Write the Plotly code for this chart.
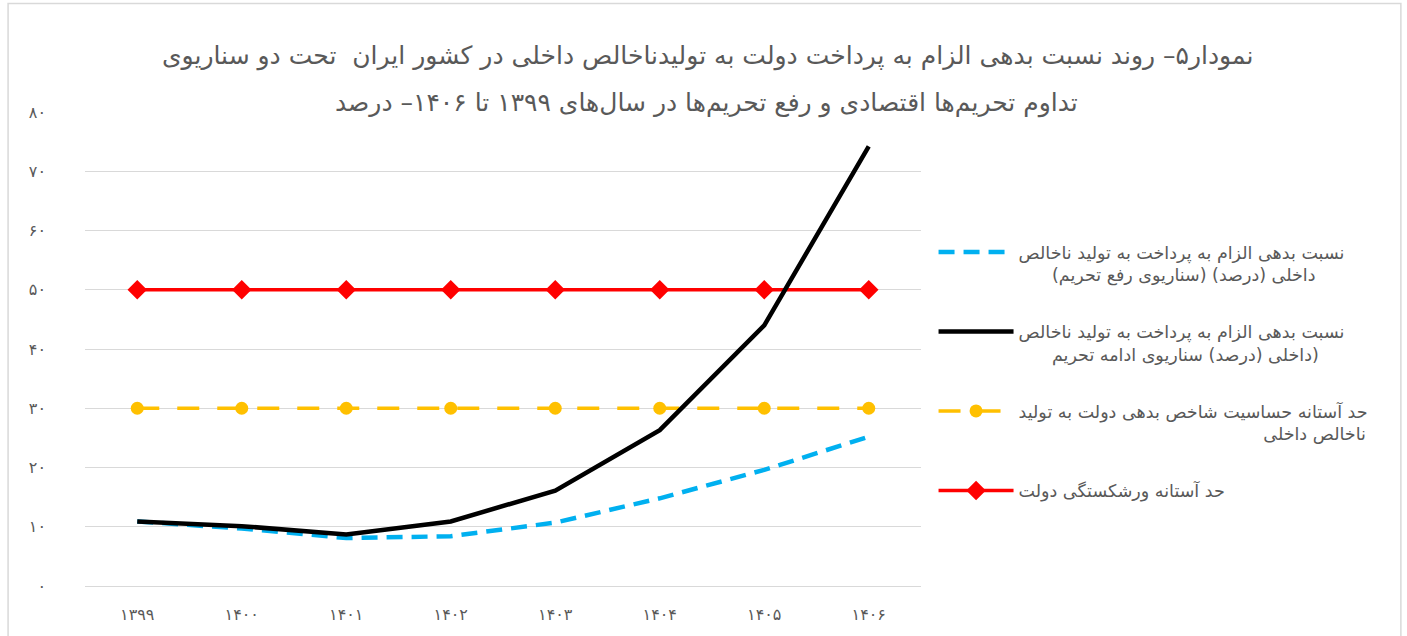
import plotly.graph_objects as go

years = ["۱۳۹۹", "۱۴۰۰", "۱۴۰۱", "۱۴۰۲", "۱۴۰۳", "۱۴۰۴", "۱۴۰۵", "۱۴۰۶"]
lift_sanctions = [10.9, 9.7, 8.1, 8.4, 10.7, 14.8, 19.6, 25.2]
continue_sanctions = [10.9, 10.1, 8.7, 10.9, 16.1, 26.3, 44.0, 74.2]
sensitivity_threshold = [30, 30, 30, 30, 30, 30, 30, 30]
bankruptcy_threshold = [50, 50, 50, 50, 50, 50, 50, 50]
y_tickvals = [0, 10, 20, 30, 40, 50, 60, 70, 80]
y_ticktext = ["۰", "۱۰", "۲۰", "۳۰", "۴۰", "۵۰", "۶۰", "۷۰", "۸۰"]

NB = "\u00a0"
names = [
    "نسبت بدهی الزام به پرداخت به تولید ناخالص<br>" + NB * 6 + "داخلی (درصد) (سناریوی رفع تحریم)",
    "نسبت بدهی الزام به پرداخت به تولید ناخالص<br>" + NB * 6 + "داخلی (درصد) سناریوی ادامه تحریم)",
    "حد آستانه حساسیت شاخص بدهی دولت به تولید<br>" + NB * 44 + "ناخالص داخلی",
    "حد آستانه ورشکستگی دولت",
]

FONT = "DejaVu Sans"
GRAY = "#595959"

fig = go.Figure()
fig.add_trace(go.Scatter(x=years, y=sensitivity_threshold, name=names[2], mode="lines+markers",
                         line=dict(color="#FFC000", width=3.5, dash="22px,18px"),
                         marker=dict(symbol="circle", size=13, color="#FFC000"),
                         legendrank=3, legendgroup="c"))
fig.add_trace(go.Scatter(x=years, y=bankruptcy_threshold, name=names[3], mode="lines+markers",
                         line=dict(color="#FF0000", width=3.5),
                         marker=dict(symbol="diamond", size=15, color="#FF0000"),
                         legendrank=4, legendgroup="d"))
fig.add_trace(go.Scatter(x=years, y=lift_sanctions, name=names[0], mode="lines",
                         line=dict(color="#00B0F0", width=4.5, dash="16px,9px"),
                         legendrank=1, legendgroup="a"))
fig.add_trace(go.Scatter(x=years, y=continue_sanctions, name=names[1], mode="lines",
                         line=dict(color="#000000", width=4.5),
                         legendrank=2, legendgroup="b"))

fig.update_layout(
    width=1407, height=636,
    margin=dict(l=85, r=486, t=112, b=46),
    paper_bgcolor="white", plot_bgcolor="white",
    font=dict(family=FONT, color=GRAY, size=15),
    title=dict(text="نمودار۵– روند نسبت بدهی الزام به پرداخت دولت به تولیدناخالص داخلی در کشور ایران  تحت دو سناریوی",
               x=0.503, xref="container", xanchor="center", y=1 - 55 / 636, yref="container",
               yanchor="middle",
               font=dict(family=FONT, size=25, color=GRAY)),
    showlegend=True,
    legend=dict(x=1.015, xanchor="left", y=0.7425, yanchor="top", valign="top",
                font=dict(family=FONT, size=17.5, color=GRAY), itemwidth=75,
                tracegroupgap=31, traceorder="grouped", bgcolor="rgba(0,0,0,0)"),
)
fig.add_annotation(text="تداوم تحریم‌ها اقتصادی و رفع تحریم‌ها در سال‌های ۱۳۹۹ تا ۱۴۰۶– درصد",
                   xref="paper", yref="paper", x=(706 - 85) / 836, y=(589 - 103) / 477,
                   xanchor="center", yanchor="middle",
                   showarrow=False, font=dict(family=FONT, size=25, color=GRAY))

fig.update_xaxes(type="category", range=[-0.5, 7.5], showgrid=False, showline=True,
                 linecolor="#D9D9D9", linewidth=1, mirror=False,
                 ticks="", tickfont=dict(size=16, color=GRAY), ticklabelstandoff=14)
fig.update_yaxes(range=[0, 80], tickvals=y_tickvals, ticktext=y_ticktext, showgrid=True,
                 gridcolor="#D9D9D9", gridwidth=1, zeroline=False, showline=False, ticks="",
                 tickfont=dict(size=16, color=GRAY), ticklabelstandoff=38)

fig.add_shape(type="rect", xref="paper", yref="paper", x0=-0.092, x1=1.574, y0=-0.2, y1=1.229,
              line=dict(color="#D9D9D9", width=1.5), fillcolor="rgba(0,0,0,0)", layer="below")

fig.write_html("out.html", config={"displayModeBar": False},
               post_script="document.body.style.margin='0';")
